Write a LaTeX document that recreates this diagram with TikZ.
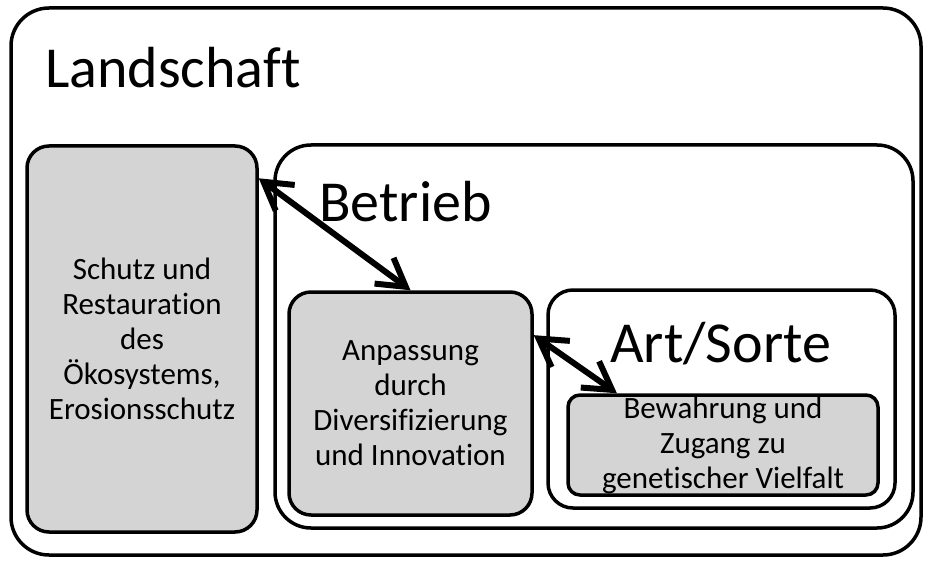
\documentclass[tikz,border=0pt]{standalone}
\usepackage{fontspec}
\setmainfont{Carlito}[Ligatures=NoCommon]
\usepackage{tikz}
\usetikzlibrary{arrows.meta}

\begin{document}
\begin{tikzpicture}[x=1pt,y=-1pt,
        box/.style={draw, line width=3.5pt, rounded corners=#1, inner sep=0pt, align=center,
            font=\fontsize{31}{35}\selectfont},
        greybox/.style={box=#1, fill=black!17},
        title/.style={anchor=base west, inner sep=0pt, font=\fontsize{58}{62}\selectfont},
        link/.style={line width=6pt, {Straight Barb[length=27pt,width=32pt]}-{Straight Barb[length=27pt,width=32pt]}}]
        \useasboundingbox (0,0) rectangle (925,561);
        \node[box=38pt, minimum width=910pt, minimum height=547pt] (landschaft) at (466,281.5) {};
        \node[box=36pt, minimum width=638pt, minimum height=383pt] (betrieb) at (594,336.5) {};
        \node[box=25pt, minimum width=347pt, minimum height=218pt] (art) at (721.5,399) {};
        \node[greybox=22pt, minimum width=230pt, minimum height=386pt] (schutz) at (142,339)
            {Schutz und\\Restauration\\des\\Ökosystems,\\Erosionsschutz};
        \node[greybox=22pt, minimum width=243pt, minimum height=223pt] (anpassung) at (410.5,403.5)
            {Anpassung\\durch\\Diversifizierung\\und Innovation};
        \node[greybox=12pt, minimum width=310pt, minimum height=100pt] (bewahrung) at (723,445)
            {Bewahrung und\\Zugang zu\\genetischer Vielfalt};
        \node[title] (tl) at (45,88) {Landschaft};
        \node[title] (tb) at (319,222) {Betrieb};
        \node[title] (ta) at (610,362) {Art/Sorte};
        \draw[link] (schutz.54) -- (anpassung.north);
        \draw[link] (anpassung.29) -- (bewahrung.154);
    \end{tikzpicture}
\end{document}
